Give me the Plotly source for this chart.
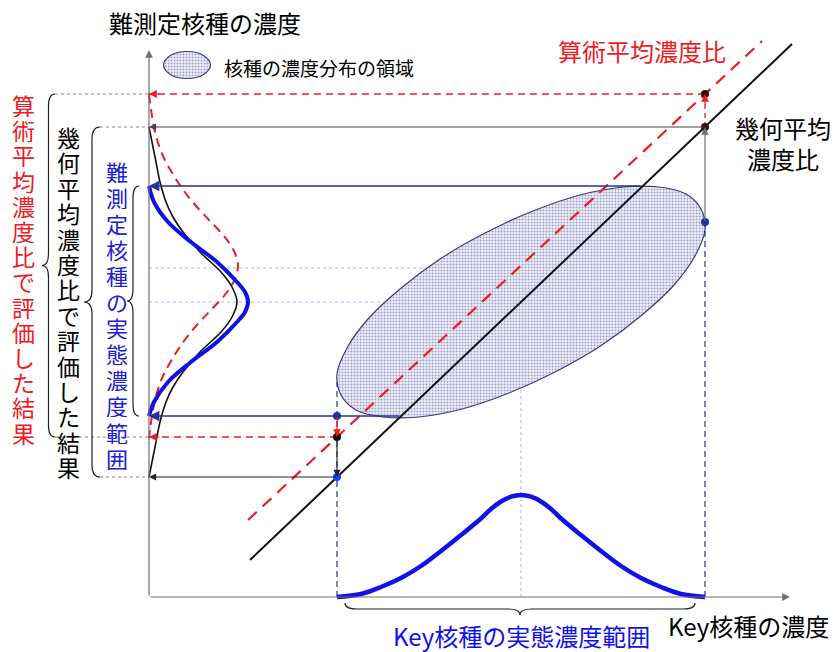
import plotly.graph_objects as go

FONT = "Noto Sans CJK JP"
RED = "#ec1c24"
BLUE = "#1010e8"
NAVY = "#26319a"
GRAY = "#707070"

# coordinates: x = Key nuclide concentration, y = hard-to-measure nuclide concentration
# (origin at the axes corner)

# Key nuclide real concentration range and its distribution
key_lo, key_hi, key_mid = 188, 556, 372
key_pdf_x = [188, 212, 232, 252, 272, 292, 312, 332, 342, 352, 362, 372,
             382, 392, 402, 412, 432, 452, 472, 492, 512, 532, 556]
key_pdf_y = [0, 3, 10, 19, 31, 46, 62, 78.5, 88, 95.5, 100.3, 102,
             100.3, 95.5, 88, 78.5, 62, 46, 31, 19, 10, 3, 0]

# concentration distribution region (ellipse outline)
ell_x = [552, 537, 510, 474, 431, 384, 336, 291, 251, 219, 198, 188,
         192, 207, 234, 270, 313, 360, 408, 453, 493, 525, 546, 556, 552]
ell_y = [388, 403, 410, 410, 402, 386, 364, 338, 308, 278, 249, 223,
         202, 187, 180, 180, 188, 204, 226, 252, 282, 312, 341, 367, 388]

# ratio lines
geo_line_x = [101, 643]
geo_line_y = [37, 553]
ari_line_x = [99, 613]
ari_line_y = [77, 556]

# levels read on the vertical axis
real_top, real_bot = 411, 181        # real range of hard-to-measure nuclide
geo_top, geo_bot = 470, 120          # evaluated with geometric mean ratio
ari_top, ari_bot = 503, 160          # evaluated with arithmetic mean ratio
right_dot_y = 375
real_peak_y, ari_peak_y = 295, 329

# distributions projected on the vertical axis
real_pdf_y = [411, 395, 375, 355, 335, 315, 305, 295, 285, 275, 255, 235, 215, 195, 181]
real_pdf_x = [0, 5, 19, 42, 68, 88, 96, 99, 96, 88, 68, 42, 19, 5, 0]
geo_pdf_y = [470, 455, 435, 415, 395, 380, 365, 345, 325, 310, 295,
             280, 265, 245, 225, 210, 195, 175, 155, 135, 120]
geo_pdf_x = [0, 3, 7, 11, 17, 24, 34, 51, 72, 83, 88,
             83, 72, 51, 34, 24, 17, 11, 7, 3, 0]
ari_pdf_y = [503, 481, 461, 441, 421, 406, 391, 376, 361, 346, 331,
             316, 301, 286, 271, 256, 241, 221, 201, 181, 159]
ari_pdf_x = [0, 3, 7, 14, 25, 35, 47, 61, 75, 85, 89,
             85, 75, 61, 47, 35, 25, 14, 7, 3, 0]

fig = go.Figure()


def line(x, y, color, width=1.0, dash="solid", shape="linear"):
    fig.add_trace(go.Scatter(x=x, y=y, mode="lines",
                             line=dict(color=color, width=width, dash=dash, shape=shape),
                             hoverinfo="skip", showlegend=False))


def arrow(x0, y0, x1, y1, color, width=1.2, size=1.3):
    fig.add_annotation(x=x1, y=y1, ax=x0, ay=y0, xref="x", yref="y",
                       axref="x", ayref="y", text="", showarrow=True,
                       arrowhead=2, arrowsize=size, arrowwidth=width,
                       arrowcolor=color, standoff=0, startstandoff=0)


def label(x, y, s, size, color="black", anchor="center", height=None):
    fig.add_annotation(x=x, y=y, text=s, showarrow=False, xref="x", yref="y",
                       font=dict(family=FONT, size=size, color=color),
                       xanchor=anchor, yanchor="middle", height=height,
                       borderpad=0)


def vlabel(x, y0, s, size, step, color="black"):
    for i, ch in enumerate(s):
        label(x, y0 - i * step, ch, size, color, height=step - 1)


def vbrace(y0, y1, x_tip, w, r=12):
    xm, xe, ym = x_tip + w / 2, x_tip + w, (y0 + y1) / 2
    p = (f"M{xe},{y1} Q{xm},{y1} {xm},{y1 - r} L{xm},{ym + r} "
         f"Q{xm},{ym} {x_tip},{ym} Q{xm},{ym} {xm},{ym - r} "
         f"L{xm},{y0 + r} Q{xm},{y0} {xe},{y0}")
    fig.add_shape(type="path", path=p, xref="x", yref="y",
                  line=dict(color="#222222", width=1.2))


def hbrace(x0, x1, y_tip, w, r=12):
    ym, ye, xm = y_tip + w / 2, y_tip + w, (x0 + x1) / 2
    p = (f"M{x0},{ye} Q{x0},{ym} {x0 + r},{ym} L{xm - r},{ym} "
         f"Q{xm},{ym} {xm},{y_tip} Q{xm},{ym} {xm + r},{ym} "
         f"L{x1 - r},{ym} Q{x1},{ym} {x1},{ye}")
    fig.add_shape(type="path", path=p, xref="x", yref="y",
                  line=dict(color="#222222", width=1.2))


region_pattern = dict(shape=".", fgcolor="#4d4d9c", bgcolor="#ededf7",
                      size=3, solidity=0.3)

# light guide lines (behind the region)
line([0, key_mid], [real_peak_y, real_peak_y], "#aab4ea", 1, "3px,3px")
line([0, key_mid], [ari_peak_y, ari_peak_y], "#aab4ea", 1, "3px,3px")
line([key_mid, key_mid], [0, real_peak_y], "#aab4ea", 1, "3px,3px")

# concentration distribution region
fig.add_trace(go.Scatter(x=ell_x, y=ell_y, mode="lines", fill="toself",
                         line=dict(color="#3b3b78", width=1.2, shape="spline"),
                         fillcolor="#ededf7", fillpattern=region_pattern,
                         hoverinfo="skip", showlegend=False))

# legend symbol
leg_x = [61.5, 54.6, 38, 21.4, 14.5, 21.4, 38, 54.6, 61.5]
leg_y = [532, 541.5, 545.5, 541.5, 532, 522.5, 518.5, 522.5, 532]
fig.add_trace(go.Scatter(x=leg_x, y=leg_y, mode="lines", fill="toself",
                         line=dict(color="#3b3b78", width=1.2, shape="spline"),
                         fillcolor="#ededf7", fillpattern=region_pattern,
                         hoverinfo="skip", showlegend=False))

# vertical dashed guides from the Key range
line([key_lo, key_lo], [0, 215], NAVY, 1.2, "6px,4px")
line([key_hi, key_hi], [0, right_dot_y], NAVY, 1.2, "6px,4px")

# ratio lines
line(ari_line_x, ari_line_y, RED, 2.2, "12px,8px")
line(geo_line_x, geo_line_y, "#111111", 2)

# horizontal projections to the vertical axis
line([key_hi, 0], [ari_top, ari_top], RED, 1.3, "7px,5px")
arrow(12, ari_top, 0, ari_top, RED)
arrow(key_hi, geo_top, 0, geo_top, "#444444", 1.1)
arrow(493, real_top, 0, real_top, NAVY, 1.6)
arrow(252, real_bot, 0, real_bot, NAVY, 1.6)
line([key_lo, 0], [ari_bot, ari_bot], RED, 1.3, "7px,5px")
arrow(12, ari_bot, 0, ari_bot, RED)
arrow(key_lo, geo_bot, 0, geo_bot, "#222222", 1.1)

# vertical steps at both ends of the Key range
arrow(key_hi, right_dot_y, key_hi, geo_top, GRAY, 1.2)
line([key_hi, key_hi], [geo_top, ari_top], RED, 1.3, "5px,4px")
arrow(key_hi, ari_top - 12, key_hi, ari_top, RED)
arrow(key_lo, real_bot, key_lo, ari_bot, RED, 1.2)
arrow(key_lo, ari_bot, key_lo, geo_bot, "#222222", 1.1)

# guide dots for braces
for yv, x0 in [(ari_top, -94), (geo_top, -49), (ari_bot, -94), (geo_bot, -49)]:
    line([x0, 0], [yv, yv], "#888888", 1, "dot")

# distributions on the vertical axis
line(ari_pdf_x, ari_pdf_y, RED, 2, "9px,6px", "spline")
line(geo_pdf_x, geo_pdf_y, "#111111", 1.6, "solid", "spline")
line(real_pdf_x, real_pdf_y, BLUE, 4, "solid", "spline")

# Key nuclide distribution
line(key_pdf_x, key_pdf_y, BLUE, 4.5, "solid", "spline")

# axes
arrow(0, 0, 0, 547, GRAY, 1.2)
arrow(0, 0, 641, 0, GRAY, 1.2)

# points
dot_x = [key_hi, key_hi, key_hi, key_lo, key_lo, key_lo]
dot_y = [ari_top, geo_top, right_dot_y, real_bot, ari_bot, geo_bot]
dot_c = ["#3a0a0a", "#3a0a0a", NAVY, NAVY, "#111111", "#1e3cff"]
fig.add_trace(go.Scatter(x=dot_x, y=dot_y, mode="markers",
                         marker=dict(color=dot_c, size=8),
                         hoverinfo="skip", showlegend=False))

# braces
vbrace(ari_bot, ari_top, -107, 13)
vbrace(geo_bot, geo_top, -65, 16)
vbrace(real_bot, real_top, -22, 12)
hbrace(196, 546, -18, 12)

# texts
label(56, 575, "難測定核種の濃度", 24, height=28)
label(74, 530, "核種の濃度分布の領域", 19, anchor="left")
label(493, 547, "算術平均濃度比", 24, RED)
label(634, 470, "幾何平均", 24)
label(634, 439, "濃度比", 24)
label(key_mid, -38, "Key核種の実態濃度範囲", 24, BLUE)
label(518, -28, "Key核種の濃度", 24, anchor="left")
vlabel(-126, 492, "算術平均濃度比で評価した結果", 23, 25.2, RED)
vlabel(-81, 460, "幾何平均濃度比で評価した結果", 23, 25.4)
vlabel(-32, 427, "難測定核種の実態濃度範囲", 22, 26.1, "#2020d0")

# the page adds an 8px body margin, so the figure is 8px smaller than the window
fig.update_layout(
    width=830, height=644,
    margin=dict(l=0, r=0, t=0, b=0),
    plot_bgcolor="white", paper_bgcolor="white",
    showlegend=False,
    xaxis=dict(range=[-141, 689], visible=False, fixedrange=True),
    yaxis=dict(range=[-55, 589], visible=False, fixedrange=True),
)

fig.write_html("out.html")
